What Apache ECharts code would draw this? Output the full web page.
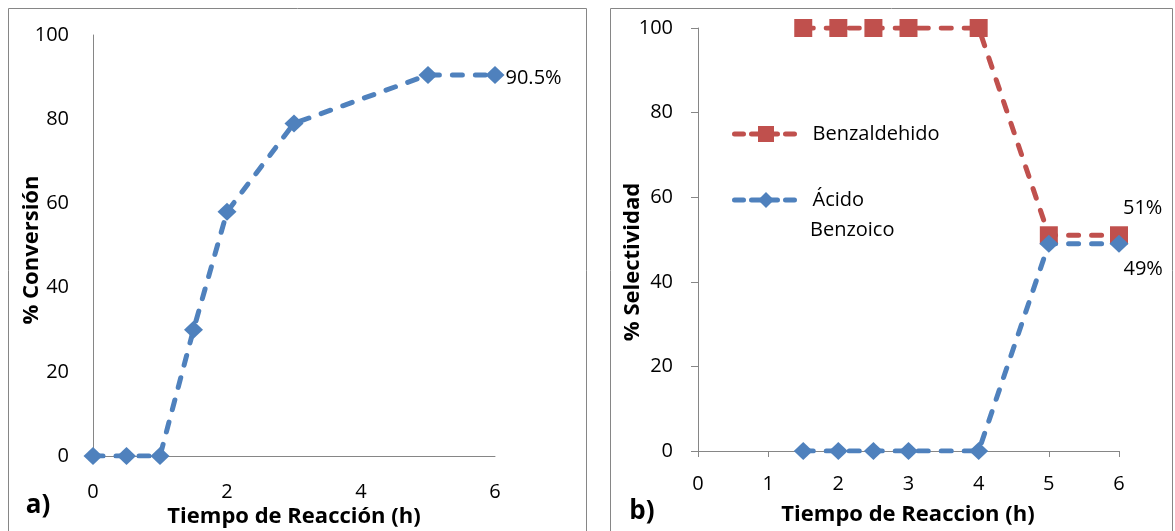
<!DOCTYPE html>
<html>
<head>
<meta charset="utf-8">
<script src="https://cdn.jsdelivr.net/npm/echarts@6/dist/echarts.min.js"></script>
<style>
html,body{margin:0;padding:0;background:#fff;}
#c{width:1175px;height:531px;}
</style>
</head>
<body>
<div id="c"></div>
<script>
// ---- data ----
const timeA = [0, 0.5, 1, 1.5, 2, 3, 5, 6];
const conversion = [0, 0, 0, 30, 58, 79, 90.5, 90.5];
const timeB = [1.5, 2, 2.5, 3, 4, 5, 6];
const benzaldehido = [100, 100, 100, 100, 100, 51, 51];
const acidoBenzoico = [0, 0, 0, 0, 0, 49, 49];
const seriesNames = ['Benzaldehido', 'Ácido Benzoico'];
const axisTitles = ['% Conversión', 'Tiempo de Reacción (h)', '% Selectividad', 'Tiempo de Reaccion (h)'];
const panelLabels = ['a)', 'b)'];

const FONT = '"Open Sans", "Noto Sans", sans-serif';
const BLUE = '#4F81BD';
const RED = '#C0504D';
const AX = '#868686';
const DASH = [10, 13];

function pairs(xs, ys, lastLabel) {
  return xs.map((x, i) => {
    const item = { value: [x, ys[i]] };
    if (i === xs.length - 1 && lastLabel) item.label = Object.assign({ show: true }, lastLabel);
    return item;
  });
}

const labelStyle = { color: '#000', fontSize: 20, fontFamily: FONT };
const legendCommon = {
  orient: 'vertical', left: 732, padding: 0, itemWidth: 63, itemHeight: 20,
  lineStyle: { width: 5, type: [9, 8], cap: 'round' },
  textStyle: { color: '#000', fontSize: 20, fontFamily: FONT, padding: [0, 0, 0, 10] }
};

const chart = echarts.init(document.getElementById('c'), null, { renderer: 'canvas' });
chart.setOption({
  animation: false,
  backgroundColor: '#fff',
  grid: [
    { left: 93, top: 35, width: 402, height: 421 },
    { left: 698, top: 28, width: 421, height: 423 }
  ],
  xAxis: [
    { gridIndex: 0, type: 'value', min: 0, max: 6, interval: 2,
      axisLine: { show: true, lineStyle: { color: AX, width: 1 } },
      axisTick: { show: false }, splitLine: { show: false },
      axisLabel: Object.assign({ margin: 26 }, labelStyle) },
    { gridIndex: 1, type: 'value', min: 0, max: 6, interval: 1,
      axisLine: { show: true, lineStyle: { color: AX, width: 1 } },
      axisTick: { show: true, length: 6, lineStyle: { color: AX } }, splitLine: { show: false },
      axisLabel: Object.assign({ margin: 23 }, labelStyle) }
  ],
  yAxis: [
    { gridIndex: 0, type: 'value', min: 0, max: 100, interval: 20,
      axisLine: { show: true, lineStyle: { color: AX, width: 1 } },
      axisTick: { show: false }, splitLine: { show: false },
      axisLabel: Object.assign({ margin: 24 }, labelStyle) },
    { gridIndex: 1, type: 'value', min: 0, max: 100, interval: 20,
      axisLine: { show: true, lineStyle: { color: AX, width: 1 } },
      axisTick: { show: true, length: 7, lineStyle: { color: AX } }, splitLine: { show: false },
      axisLabel: Object.assign({ margin: 25 }, labelStyle) }
  ],
  legend: [
    Object.assign({ data: [seriesNames[0]], top: 124 }, legendCommon),
    Object.assign({ data: [seriesNames[1]], top: 190, formatter: (n) => n.split(' ')[0] }, legendCommon)
  ],
  series: [
    { name: 'Conversión', type: 'line', xAxisIndex: 0, yAxisIndex: 0,
      data: pairs(timeA, conversion, { position: 'right', distance: 1, offset: [0, 3],
        formatter: (p) => p.value[1] + '%', color: '#000', fontSize: 20, fontFamily: FONT }),
      symbol: 'diamond', symbolSize: [19, 18],
      itemStyle: { color: BLUE },
      lineStyle: { color: BLUE, width: 5, type: DASH, cap: 'round' } },
    { name: seriesNames[0], type: 'line', xAxisIndex: 1, yAxisIndex: 1,
      data: pairs(timeB, benzaldehido, { position: 'right', distance: 5, offset: [-10, -27],
        formatter: (p) => p.value[1] + '%', color: '#000', fontSize: 20, fontFamily: FONT }),
      symbol: 'rect', symbolSize: 18,
      itemStyle: { color: RED },
      lineStyle: { color: RED, width: 5, type: DASH, cap: 'round' } },
    { name: seriesNames[1], type: 'line', xAxisIndex: 1, yAxisIndex: 1,
      data: pairs(timeB, acidoBenzoico, { position: 'right', distance: 5, offset: [-10, 26],
        formatter: (p) => p.value[1] + '%', color: '#000', fontSize: 20, fontFamily: FONT }),
      symbol: 'diamond', symbolSize: [19, 18],
      itemStyle: { color: BLUE },
      lineStyle: { color: BLUE, width: 5, type: DASH, cap: 'round' } }
  ],
  graphic: [
    { type: 'rect', shape: { x: 8.5, y: 8.5, width: 578, height: 540 }, style: { fill: 'none', stroke: AX, lineWidth: 1 }, silent: true },
    { type: 'rect', shape: { x: 610.5, y: 8.5, width: 562, height: 540 }, style: { fill: 'none', stroke: AX, lineWidth: 1 }, silent: true },
    { type: 'text', x: 32, y: 250, rotation: Math.PI / 2,
      style: { text: axisTitles[0], font: 'bold 22px ' + FONT, fill: '#000', textAlign: 'center', textVerticalAlign: 'middle' } },
    { type: 'text', x: 294, y: 517,
      style: { text: axisTitles[1], font: 'bold 22px ' + FONT, fill: '#000', textAlign: 'center', textVerticalAlign: 'middle' } },
    { type: 'text', x: 633, y: 262, rotation: Math.PI / 2,
      style: { text: axisTitles[2], font: 'bold 22px ' + FONT, fill: '#000', textAlign: 'center', textVerticalAlign: 'middle' } },
    { type: 'text', x: 908, y: 515,
      style: { text: axisTitles[3], font: 'bold 22px ' + FONT, fill: '#000', textAlign: 'center', textVerticalAlign: 'middle' } },
    { type: 'text', x: 38, y: 506,
      style: { text: panelLabels[0], font: 'bold 26px ' + FONT, fill: '#000', textAlign: 'center', textVerticalAlign: 'middle' } },
    { type: 'text', x: 642, y: 512,
      style: { text: panelLabels[1], font: 'bold 26px ' + FONT, fill: '#000', textAlign: 'center', textVerticalAlign: 'middle' } },
    { type: 'text', x: 810, y: 230,
      style: { text: seriesNames[1].split(' ')[1], font: '20px ' + FONT, fill: '#000', textAlign: 'left', textVerticalAlign: 'middle' } }
  ]
});
</script>
</body>
</html>
